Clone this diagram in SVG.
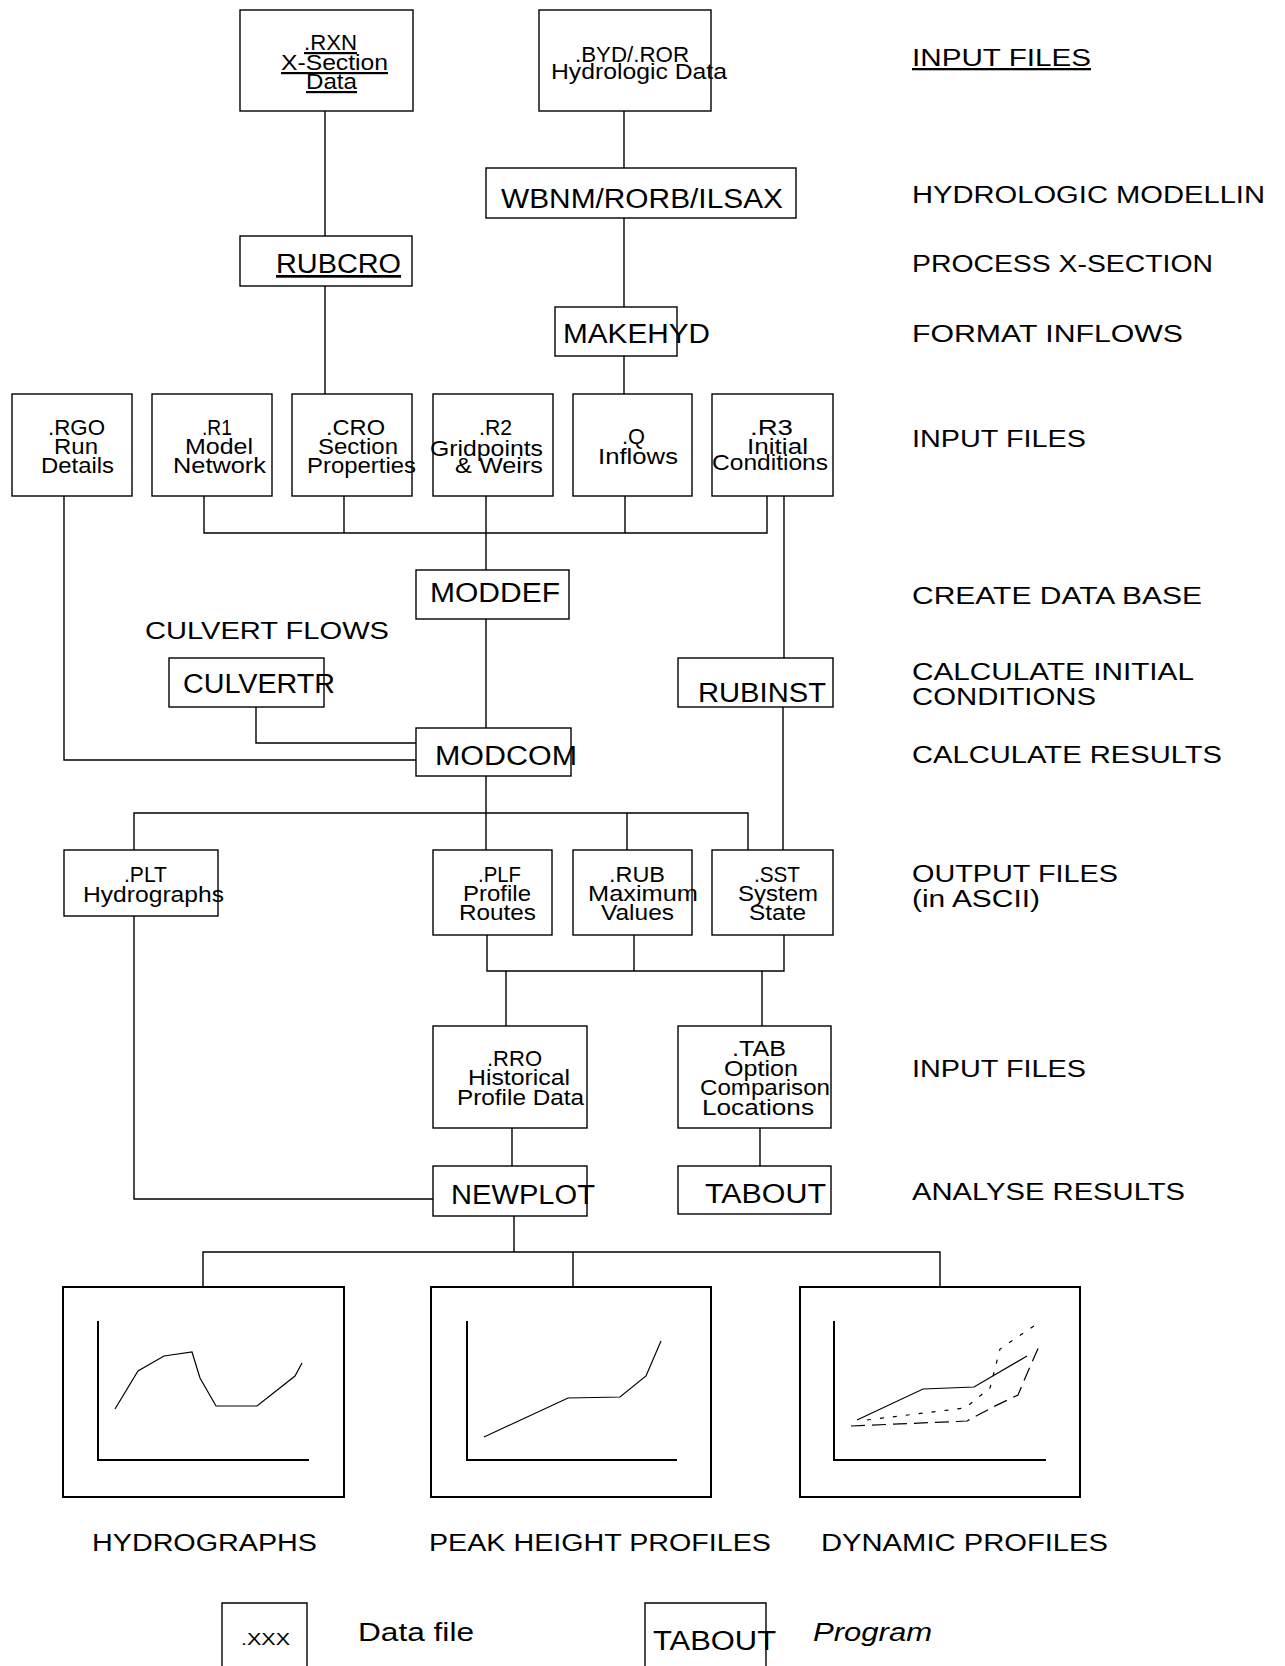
<svg xmlns="http://www.w3.org/2000/svg" width="1285" height="1666" viewBox="0 0 1285 1666">
<style>
.bx{fill:none;stroke:#000;stroke-width:1.4}
.ln{fill:none;stroke:#000;stroke-width:1.4}
.ch{fill:none;stroke:#000;stroke-width:2}
.cv{fill:none;stroke:#000;stroke-width:1.2}
text{font-family:"Liberation Sans",Arial,sans-serif;fill:#000}
.s{font-size:22px}
.p{font-size:27px}
.r{font-size:23px}
.u{text-decoration:underline}
</style>
<rect width="1285" height="1666" fill="#fff"/>
<g id="connectors">
<path class="ln" d="M325,111V236M325,286V394M624,111V168M624,218V307M624,356V394"/>
<path class="ln" d="M204,496V533H767V496M344,496V533M486,496V570M625,496V533"/>
<path class="ln" d="M64,496V760H416M784,496V658M486,619V728M256,707V743H416"/>
<path class="ln" d="M486,776V850M134,850V813H748V850M627,813V850M783,707V850"/>
<path class="ln" d="M134,916V1199H433M487,935V971H784V935M634,935V971M506,971V1026M762,971V1026"/>
<path class="ln" d="M512,1128V1166M760,1128V1166M514,1216V1252M203,1287V1252H940V1287M573,1252V1287"/>
</g>
<g id="n-rxn"><rect class="bx" x="240" y="10" width="173" height="101"/>
<text class="s u" x="304" y="50" textLength="53" lengthAdjust="spacingAndGlyphs">.RXN</text>
<text class="s u" x="281" y="70" textLength="107" lengthAdjust="spacingAndGlyphs">X-Section</text>
<text class="s u" x="306" y="89" textLength="51" lengthAdjust="spacingAndGlyphs">Data</text></g>
<g id="n-byd"><rect class="bx" x="539" y="10" width="172" height="101"/>
<text class="s" x="575" y="62" textLength="114" lengthAdjust="spacingAndGlyphs">.BYD/.ROR</text>
<text class="s" x="551" y="79" textLength="176" lengthAdjust="spacingAndGlyphs">Hydrologic Data</text></g>
<g id="n-wbnm"><rect class="bx" x="486" y="168" width="310" height="50"/>
<text class="p" x="501" y="208" textLength="282" lengthAdjust="spacingAndGlyphs">WBNM/RORB/ILSAX</text></g>
<g id="n-rubcro"><rect class="bx" x="240" y="236" width="172" height="50"/>
<text class="p u" x="276" y="273" textLength="125" lengthAdjust="spacingAndGlyphs">RUBCRO</text></g>
<g id="n-makehyd"><rect class="bx" x="555" y="307" width="122" height="49"/>
<text class="p" x="563" y="343" textLength="147" lengthAdjust="spacingAndGlyphs">MAKEHYD</text></g>
<g id="n-rgo"><rect class="bx" x="12" y="394" width="120" height="102"/>
<text class="s" x="48" y="435" textLength="57" lengthAdjust="spacingAndGlyphs">.RGO</text>
<text class="s" x="54" y="454" textLength="44" lengthAdjust="spacingAndGlyphs">Run</text>
<text class="s" x="41" y="473" textLength="73" lengthAdjust="spacingAndGlyphs">Details</text></g>
<g id="n-r1"><rect class="bx" x="152" y="394" width="120" height="102"/>
<text class="s" x="202" y="435" textLength="30" lengthAdjust="spacingAndGlyphs">.R1</text>
<text class="s" x="185" y="454" textLength="68" lengthAdjust="spacingAndGlyphs">Model</text>
<text class="s" x="173" y="473" textLength="93" lengthAdjust="spacingAndGlyphs">Network</text></g>
<g id="n-cro"><rect class="bx" x="292" y="394" width="120" height="102"/>
<text class="s" x="326" y="435" textLength="59" lengthAdjust="spacingAndGlyphs">.CRO</text>
<text class="s" x="318" y="454" textLength="80" lengthAdjust="spacingAndGlyphs">Section</text>
<text class="s" x="307" y="473" textLength="109" lengthAdjust="spacingAndGlyphs">Properties</text></g>
<g id="n-r2"><rect class="bx" x="433" y="394" width="120" height="102"/>
<text class="s" x="479" y="435" textLength="33" lengthAdjust="spacingAndGlyphs">.R2</text>
<text class="s" x="430" y="456" textLength="113" lengthAdjust="spacingAndGlyphs">Gridpoints</text>
<text class="s" x="455" y="473" textLength="88" lengthAdjust="spacingAndGlyphs">&amp; Weirs</text></g>
<g id="n-q"><rect class="bx" x="573" y="394" width="119" height="102"/>
<text class="s" x="622" y="444" textLength="23" lengthAdjust="spacingAndGlyphs">.Q</text>
<text class="s" x="598" y="464" textLength="80" lengthAdjust="spacingAndGlyphs">Inflows</text></g>
<g id="n-r3"><rect class="bx" x="712" y="394" width="121" height="102"/>
<text class="s" x="750" y="435" textLength="43" lengthAdjust="spacingAndGlyphs">.R3</text>
<text class="s" x="747" y="454" textLength="61" lengthAdjust="spacingAndGlyphs">Initial</text>
<text class="s" x="712" y="470" textLength="116" lengthAdjust="spacingAndGlyphs">Conditions</text></g>
<g id="n-moddef"><rect class="bx" x="416" y="570" width="153" height="49"/>
<text class="p" x="430" y="602" textLength="130" lengthAdjust="spacingAndGlyphs">MODDEF</text></g>
<g id="n-culvertr"><rect class="bx" x="169" y="658" width="155" height="49"/>
<text class="p" x="183" y="693" textLength="152" lengthAdjust="spacingAndGlyphs">CULVERTR</text></g>
<g id="n-rubinst"><rect class="bx" x="678" y="658" width="155" height="49"/>
<text class="p" x="698" y="702" textLength="128" lengthAdjust="spacingAndGlyphs">RUBINST</text></g>
<g id="n-modcom"><rect class="bx" x="416" y="728" width="155" height="48"/>
<text class="p" x="435" y="765" textLength="142" lengthAdjust="spacingAndGlyphs">MODCOM</text></g>
<text class="r" x="145" y="639" textLength="244" lengthAdjust="spacingAndGlyphs">CULVERT FLOWS</text>
<g id="n-plt"><rect class="bx" x="64" y="850" width="154" height="66"/>
<text class="s" x="124" y="882" textLength="43" lengthAdjust="spacingAndGlyphs">.PLT</text>
<text class="s" x="83" y="902" textLength="141" lengthAdjust="spacingAndGlyphs">Hydrographs</text></g>
<g id="n-plf"><rect class="bx" x="433" y="850" width="119" height="85"/>
<text class="s" x="478" y="882" textLength="43" lengthAdjust="spacingAndGlyphs">.PLF</text>
<text class="s" x="463" y="901" textLength="68" lengthAdjust="spacingAndGlyphs">Profile</text>
<text class="s" x="459" y="920" textLength="77" lengthAdjust="spacingAndGlyphs">Routes</text></g>
<g id="n-rub"><rect class="bx" x="573" y="850" width="119" height="85"/>
<text class="s" x="609" y="882" textLength="56" lengthAdjust="spacingAndGlyphs">.RUB</text>
<text class="s" x="588" y="901" textLength="110" lengthAdjust="spacingAndGlyphs">Maximum</text>
<text class="s" x="601" y="920" textLength="73" lengthAdjust="spacingAndGlyphs">Values</text></g>
<g id="n-sst"><rect class="bx" x="712" y="850" width="121" height="85"/>
<text class="s" x="754" y="882" textLength="46" lengthAdjust="spacingAndGlyphs">.SST</text>
<text class="s" x="738" y="901" textLength="80" lengthAdjust="spacingAndGlyphs">System</text>
<text class="s" x="749" y="920" textLength="57" lengthAdjust="spacingAndGlyphs">State</text></g>
<g id="n-rro"><rect class="bx" x="433" y="1026" width="154" height="102"/>
<text class="s" x="487" y="1066" textLength="55" lengthAdjust="spacingAndGlyphs">.RRO</text>
<text class="s" x="468" y="1085" textLength="102" lengthAdjust="spacingAndGlyphs">Historical</text>
<text class="s" x="457" y="1105" textLength="127" lengthAdjust="spacingAndGlyphs">Profile Data</text></g>
<g id="n-tab"><rect class="bx" x="678" y="1026" width="153" height="102"/>
<text class="s" x="732" y="1056" textLength="54" lengthAdjust="spacingAndGlyphs">.TAB</text>
<text class="s" x="724" y="1076" textLength="74" lengthAdjust="spacingAndGlyphs">Option</text>
<text class="s" x="700" y="1095" textLength="130" lengthAdjust="spacingAndGlyphs">Comparison</text>
<text class="s" x="702" y="1115" textLength="112" lengthAdjust="spacingAndGlyphs">Locations</text></g>
<g id="n-newplot"><rect class="bx" x="433" y="1166" width="154" height="50"/>
<text class="p" x="451" y="1204" textLength="144" lengthAdjust="spacingAndGlyphs">NEWPLOT</text></g>
<g id="n-tabout"><rect class="bx" x="678" y="1166" width="153" height="48"/>
<text class="p" x="705" y="1203" textLength="121" lengthAdjust="spacingAndGlyphs">TABOUT</text></g>
<g id="labels-right">
<text class="r u" x="912" y="66" textLength="179" lengthAdjust="spacingAndGlyphs">INPUT FILES</text>
<text class="r" x="912" y="203" textLength="353" lengthAdjust="spacingAndGlyphs">HYDROLOGIC MODELLIN</text>
<text class="r" x="912" y="272" textLength="301" lengthAdjust="spacingAndGlyphs">PROCESS X-SECTION</text>
<text class="r" x="912" y="342" textLength="271" lengthAdjust="spacingAndGlyphs">FORMAT INFLOWS</text>
<text class="r" x="912" y="447" textLength="174" lengthAdjust="spacingAndGlyphs">INPUT FILES</text>
<text class="r" x="912" y="604" textLength="290" lengthAdjust="spacingAndGlyphs">CREATE DATA BASE</text>
<text class="r" x="912" y="680" textLength="282" lengthAdjust="spacingAndGlyphs">CALCULATE INITIAL</text>
<text class="r" x="912" y="705" textLength="184" lengthAdjust="spacingAndGlyphs">CONDITIONS</text>
<text class="r" x="912" y="763" textLength="310" lengthAdjust="spacingAndGlyphs">CALCULATE RESULTS</text>
<text class="r" x="912" y="882" textLength="206" lengthAdjust="spacingAndGlyphs">OUTPUT FILES</text>
<text class="r" x="912" y="907" textLength="128" lengthAdjust="spacingAndGlyphs">(in ASCII)</text>
<text class="r" x="912" y="1077" textLength="174" lengthAdjust="spacingAndGlyphs">INPUT FILES</text>
<text class="r" x="912" y="1200" textLength="273" lengthAdjust="spacingAndGlyphs">ANALYSE RESULTS</text>
</g>
<g id="chart-hydrographs"><rect class="ch" x="63" y="1287" width="281" height="210"/>
<path class="ch" d="M98,1321V1460H309"/>
<path class="cv" d="M115,1409L138,1371L164,1356L192,1352L200,1378L216,1406L257,1406L295,1376L302,1363"/></g>
<g id="chart-peak"><rect class="ch" x="431" y="1287" width="280" height="210"/>
<path class="ch" d="M467,1321V1460H677"/>
<path class="cv" d="M484,1437L568,1398L620,1397L646,1376L661,1341"/></g>
<g id="chart-dynamic"><rect class="ch" x="800" y="1287" width="280" height="210"/>
<path class="ch" d="M834,1321V1460H1046"/>
<path class="cv" d="M857,1420L923,1389L974,1387L1027,1356"/>
<path class="cv" stroke-dasharray="4,9" d="M867,1420L965,1408L990,1388L1000,1349L1041,1321"/>
<path class="cv" stroke-dasharray="14,7" d="M851,1426L967,1421L993,1407L1018,1395L1026,1376L1040,1344"/></g>
<g id="labels-bottom">
<text class="r" x="92" y="1551" font-size="25" textLength="225" lengthAdjust="spacingAndGlyphs">HYDROGRAPHS</text>
<text class="r" x="429" y="1551" font-size="25" textLength="342" lengthAdjust="spacingAndGlyphs">PEAK HEIGHT PROFILES</text>
<text class="r" x="821" y="1551" font-size="25" textLength="287" lengthAdjust="spacingAndGlyphs">DYNAMIC PROFILES</text>
</g>
<g id="legend-data"><path class="bx" d="M222,1666V1603H307V1666"/>
<text x="241" y="1645" font-size="16" textLength="49" lengthAdjust="spacingAndGlyphs">.XXX</text>
<text x="358" y="1641" font-size="25" textLength="116" lengthAdjust="spacingAndGlyphs">Data file</text></g>
<g id="legend-program"><path class="bx" d="M645,1666V1603H766V1666"/>
<text x="653" y="1650" font-size="27" textLength="123" lengthAdjust="spacingAndGlyphs">TABOUT</text>
<text x="813" y="1641" font-size="25" font-style="italic" textLength="119" lengthAdjust="spacingAndGlyphs">Program</text></g>
</svg>
